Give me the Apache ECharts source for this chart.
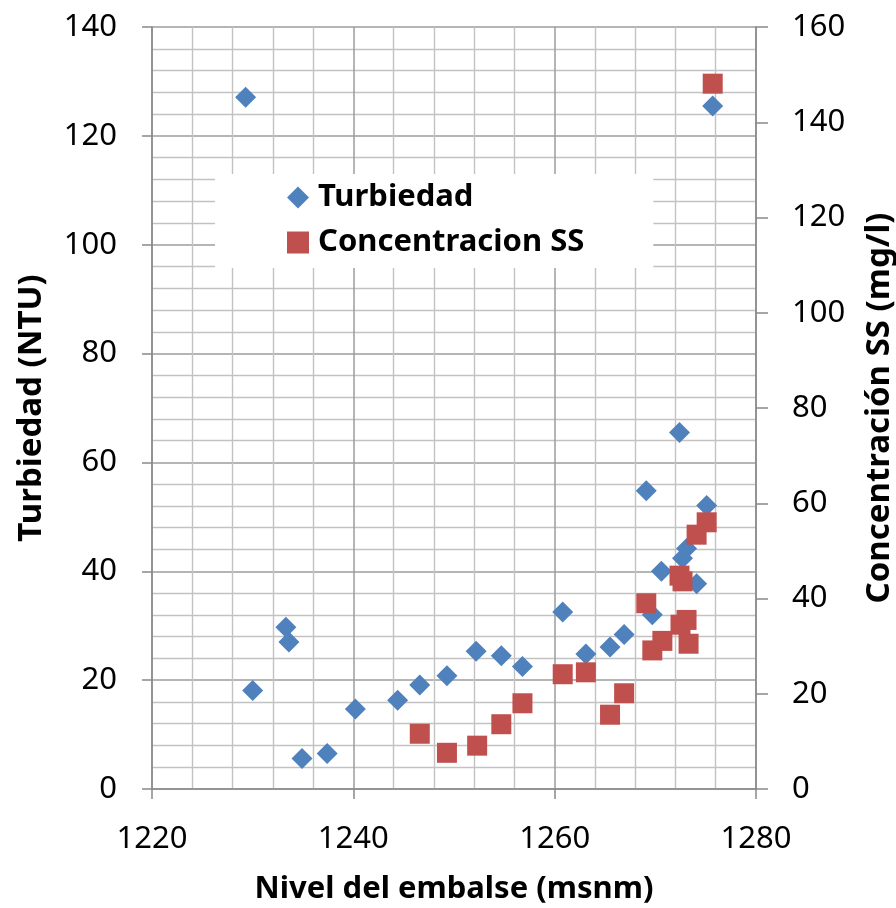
<!DOCTYPE html>
<html>
<head>
<meta charset="utf-8">
<title>Turbiedad vs nivel del embalse</title>
<script src="https://cdn.jsdelivr.net/npm/echarts@6/dist/echarts.min.js"></script>
<style>
  html, body { margin: 0; padding: 0; background: #fff; }
  #chart { width: 896px; height: 908px; }
</style>
</head>
<body>
<div id="chart"></div>
<script>
// nivel del embalse (msnm) y turbiedad (NTU)
var nivelTurb = [1229.3, 1230.0, 1233.3, 1233.6, 1234.9, 1237.4, 1240.2, 1244.4, 1246.6, 1249.3,
                 1252.2, 1254.7, 1256.8, 1260.8, 1263.1, 1265.5, 1266.9, 1269.1, 1269.7, 1270.6,
                 1272.4, 1272.7, 1273.1, 1274.1, 1275.1, 1275.7];
var turbiedad = [127.1, 18.1, 29.7, 27.0, 5.6, 6.5, 14.7, 16.3, 19.1, 20.8,
                 25.3, 24.5, 22.5, 32.5, 24.8, 26.1, 28.4, 54.8, 32.0, 40.0,
                 65.5, 42.4, 44.2, 37.7, 52.1, 125.5];

// nivel del embalse (msnm) y concentracion SS (mg/l)
var nivelSS = [1246.6, 1249.3, 1252.3, 1254.7, 1256.8, 1260.8, 1263.1, 1265.5, 1266.9, 1269.1,
               1269.7, 1270.7, 1272.4, 1272.7, 1272.5, 1273.1, 1273.3, 1274.1, 1275.1, 1275.7];
var concSS = [11.6, 7.6, 9.1, 13.6, 18.0, 24.1, 24.5, 15.6, 20.1, 39.0,
              29.1, 31.1, 44.8, 43.6, 34.5, 35.5, 30.5, 53.4, 56.0, 148.1];

function pares(xs, ys) {
    var out = [];
    for (var i = 0; i < xs.length; i++) out.push([xs[i], ys[i]]);
    return out;
}

var chart = echarts.init(document.getElementById('chart'));

var fuente = 'Noto Sans';
var ejeColor = '#898989';

var option = {
    animation: false,
    grid: { left: 152, right: 140, top: 27, bottom: 119, outerBoundsMode: 'none' },
    legend: {
        orient: 'vertical',
        left: 215,
        top: 174,
        padding: [8, 69, 10, 72],
        backgroundColor: '#ffffff',
        itemWidth: 22,
        itemHeight: 22,
        itemGap: 14,
        textStyle: { fontFamily: fuente, fontWeight: 'bold', fontSize: 31, color: '#000', padding: [0, 0, 0, 4] },
        data: ['Turbiedad', 'Concentracion SS']
    },
    xAxis: {
        type: 'value',
        min: 1220,
        max: 1280,
        interval: 20,
        name: 'Nivel del embalse (msnm)',
        nameLocation: 'middle',
        nameGap: 85,
        nameTextStyle: { fontFamily: fuente, fontWeight: 'bold', fontSize: 31, color: '#000' },
        axisLine: { lineStyle: { color: ejeColor, width: 1.5 } },
        axisTick: { show: true, length: 10, lineStyle: { color: ejeColor, width: 1.5 } },
        axisLabel: {
            fontFamily: fuente, fontSize: 31, color: '#000', margin: 35,
            formatter: function (v) { return String(v); }
        },
        splitLine: { show: true, lineStyle: { color: '#9c9c9c', width: 1.5 } },
        minorTick: { show: false, splitNumber: 5 },
        minorSplitLine: { show: true, lineStyle: { color: '#c2c2c2', width: 1.4 } }
    },
    yAxis: [
        {
            type: 'value',
            min: 0,
            max: 140,
            interval: 20,
            name: 'Turbiedad (NTU)',
            nameLocation: 'middle',
            nameGap: 104,
            nameTextStyle: { fontFamily: fuente, fontWeight: 'bold', fontSize: 33, color: '#000' },
            axisLine: { show: true, lineStyle: { color: ejeColor, width: 1.5 } },
            axisTick: { show: true, length: 10, lineStyle: { color: ejeColor, width: 1.5 } },
            axisLabel: { fontFamily: fuente, fontSize: 31, color: '#000', margin: 35 },
            splitLine: { show: true, lineStyle: { color: '#9c9c9c', width: 1.5 } },
            minorTick: { show: false, splitNumber: 5 },
            minorSplitLine: { show: true, lineStyle: { color: '#c2c2c2', width: 1.4 } }
        },
        {
            type: 'value',
            position: 'right',
            min: 0,
            max: 160,
            interval: 20,
            name: 'Concentración SS (mg/l)',
            nameLocation: 'middle',
            nameGap: 107,
            nameRotate: 90,
            nameTextStyle: { fontFamily: fuente, fontWeight: 'bold', fontSize: 33, color: '#000' },
            axisLine: { show: true, lineStyle: { color: ejeColor, width: 1.5 } },
            axisTick: { show: true, length: 12, lineStyle: { color: ejeColor, width: 1.5 } },
            axisLabel: { fontFamily: fuente, fontSize: 31, color: '#000', margin: 36 },
            splitLine: { show: false }
        }
    ],
    series: [
        {
            name: 'Turbiedad',
            type: 'scatter',
            yAxisIndex: 0,
            symbol: 'diamond',
            symbolSize: 21,
            itemStyle: { color: '#4f81bd', opacity: 1 },
            data: pares(nivelTurb, turbiedad)
        },
        {
            name: 'Concentracion SS',
            type: 'scatter',
            yAxisIndex: 1,
            symbol: 'rect',
            symbolSize: 20,
            itemStyle: { color: '#c0504d', opacity: 1 },
            data: pares(nivelSS, concSS)
        }
    ]
};

chart.setOption(option);
</script>
</body>
</html>
